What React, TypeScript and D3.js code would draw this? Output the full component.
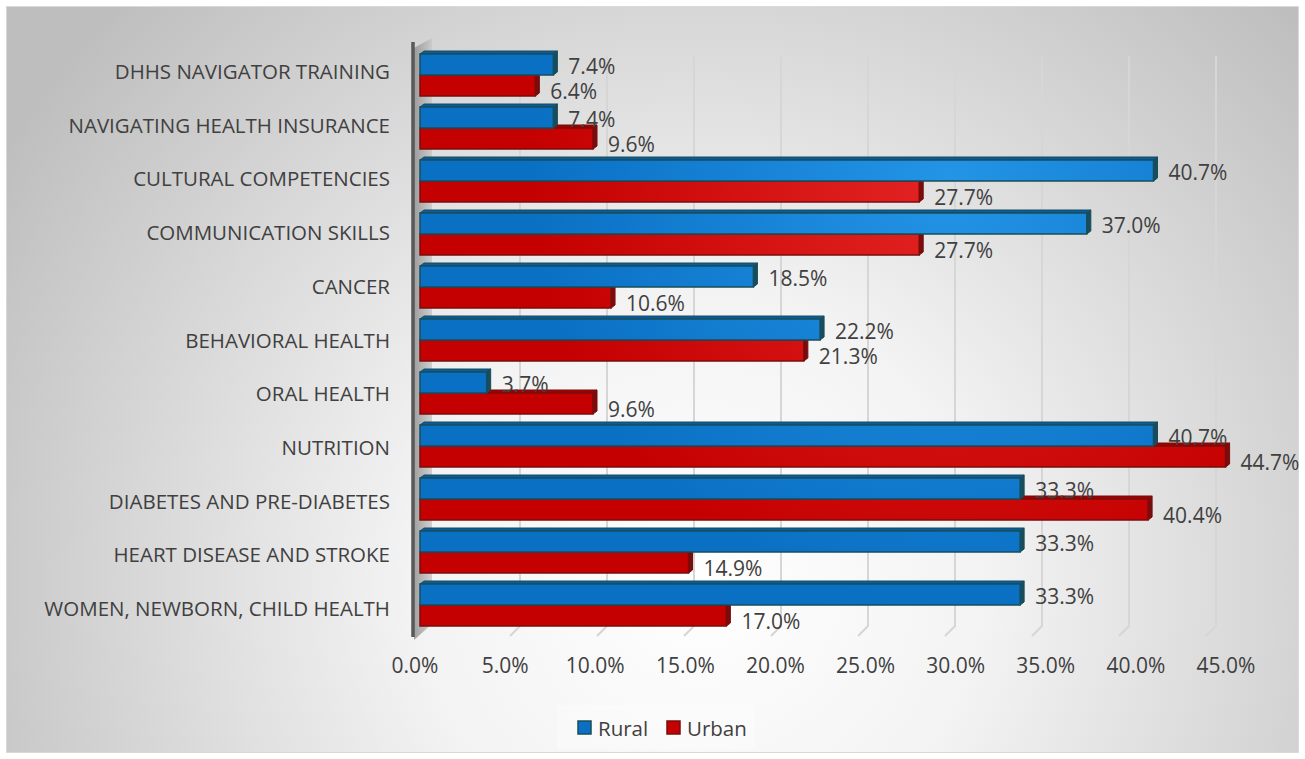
import React, { useEffect, useRef } from "react";
import * as d3 from "d3";

const categories = [
  "DHHS NAVIGATOR TRAINING",
  "NAVIGATING HEALTH INSURANCE",
  "CULTURAL COMPETENCIES",
  "COMMUNICATION SKILLS",
  "CANCER",
  "BEHAVIORAL HEALTH",
  "ORAL HEALTH",
  "NUTRITION",
  "DIABETES AND PRE-DIABETES",
  "HEART DISEASE AND STROKE",
  "WOMEN, NEWBORN, CHILD HEALTH",
];
const rural = [7.4, 7.4, 40.7, 37.0, 18.5, 22.2, 3.7, 40.7, 33.3, 33.3, 33.3];
const urban = [6.4, 9.6, 27.7, 27.7, 10.6, 21.3, 9.6, 44.7, 40.4, 14.9, 17.0];
const xTicks = [0, 5, 10, 15, 20, 25, 30, 35, 40, 45];
const seriesNames = ["Rural", "Urban"];

const FONT = "'Open Sans', 'Noto Sans', sans-serif";

export default function App() {
  const svgRef = useRef<SVGSVGElement | null>(null);

  useEffect(() => {
    const width = 1305;
    const height = 759;
    const svg = d3.select(svgRef.current).attr("width", width).attr("height", height);
    svg.selectAll("*").remove();

    // scales: front plane and back wall (3D look)
    const x = d3.scaleLinear().domain([0, 45]).range([420, 1231]);
    const xBack = d3.scaleLinear().domain([0, 45]).range([433, 1216]);
    const y = d3.scaleBand<string>().domain(categories).range([48.5, 631.5]);
    const yLabel = d3.scaleBand<string>().domain(categories).range([44, 635]);
    const barH = 21;
    const dx = 4;
    const dy = -3;

    const defs = svg.append("defs");
    const bg = defs
      .append("radialGradient")
      .attr("id", "bg")
      .attr("gradientUnits", "userSpaceOnUse")
      .attr("cx", 700)
      .attr("cy", 580)
      .attr("r", 820);
    bg.append("stop").attr("offset", "0").attr("stop-color", "#ffffff");
    bg.append("stop").attr("offset", "0.35").attr("stop-color", "#f3f3f3");
    bg.append("stop").attr("offset", "1").attr("stop-color", "#bebebe");

    const mk = (id: string, light: string, dark: string) => {
      const g = defs
        .append("radialGradient")
        .attr("id", id)
        .attr("gradientUnits", "userSpaceOnUse")
        .attr("cx", 950)
        .attr("cy", 180)
        .attr("r", 420);
      g.append("stop").attr("offset", "0").attr("stop-color", light);
      g.append("stop").attr("offset", "1").attr("stop-color", dark);
    };
    mk("blueG", "#2394e6", "#0a70c4");
    mk("redG", "#e42424", "#c40000");

    const wallG = defs.append("linearGradient").attr("id", "wall").attr("x1", "0").attr("x2", "1");
    wallG.append("stop").attr("offset", "0").attr("stop-color", "#8c8c8c");
    wallG.append("stop").attr("offset", "1").attr("stop-color", "#c8c8c8");

    // background
    svg
      .append("rect")
      .attr("x", 6.5)
      .attr("y", 6.5)
      .attr("width", 1292)
      .attr("height", 746)
      .attr("fill", "url(#bg)")
      .attr("stroke", "#d9d9d9")
      .attr("stroke-width", 1);

    // gridlines on back wall + floor diagonals
    const grid = svg.append("g");
    xTicks.slice(1).forEach((t) => {
      grid
        .append("path")
        .attr("d", `M${xBack(t)},56 L${xBack(t)},626 L${xBack(t) - 10},636`)
        .attr("fill", "none")
        .attr("stroke", "#d6d6d6")
        .attr("stroke-width", 2);
    });

    // side wall
    svg
      .append("path")
      .attr("d", "M414,48 L432,38 L432,624 L414,640 Z")
      .attr("fill", "url(#wall)")
      .attr("opacity", 0.8);
    svg
      .append("line")
      .attr("x1", 413)
      .attr("x2", 413)
      .attr("y1", 42)
      .attr("y2", 637)
      .attr("stroke", "#595959")
      .attr("stroke-width", 3.5);

    // 3D bar helper
    const drawBar = (
      g: d3.Selection<SVGGElement, unknown, null, undefined>,
      x0: number,
      x1: number,
      y0: number,
      fill: string,
      side: string,
      edge: string
    ) => {
      g.append("path")
        .attr("d", `M${x0},${y0} L${x0 + dx},${y0 + dy} L${x1 + dx},${y0 + dy} L${x1},${y0} Z`)
        .attr("fill", side)
        .attr("stroke", edge)
        .attr("stroke-width", 1);
      g.append("path")
        .attr("d", `M${x1},${y0} L${x1 + dx},${y0 + dy} L${x1 + dx},${y0 + barH + dy} L${x1},${y0 + barH} Z`)
        .attr("fill", edge)
        .attr("stroke", edge)
        .attr("stroke-width", 1);
      g.append("rect")
        .attr("x", x0)
        .attr("y", y0)
        .attr("width", x1 - x0)
        .attr("height", barH)
        .attr("fill", fill)
        .attr("stroke", edge)
        .attr("stroke-width", 1.5);
    };

    const bars = svg.append("g");
    categories.forEach((c, i) => {
      const mid = (y(c) as number) + y.bandwidth() / 2;
      drawBar(bars, x(0), x(urban[i]), mid, "url(#redG)", "#a00000", "#7a0c0c");
      drawBar(bars, x(0), x(rural[i]), mid - barH, "url(#blueG)", "#0a5c9c", "#174d5c");
    });

    // data labels
    const labels = svg
      .append("g")
      .attr("font-family", FONT)
      .attr("font-size", 21)
      .attr("fill", "#404040");
    categories.forEach((c, i) => {
      const mid = (y(c) as number) + y.bandwidth() / 2;
      labels
        .append("text")
        .attr("x", x(rural[i]) + 15)
        .attr("y", mid - barH / 2 + 1)
        .attr("dominant-baseline", "central")
        .text(`${rural[i].toFixed(1)}%`);
      labels
        .append("text")
        .attr("x", x(urban[i]) + 15)
        .attr("y", mid + barH / 2 + 5)
        .attr("dominant-baseline", "central")
        .text(`${urban[i].toFixed(1)}%`);
    });

    // category axis labels
    const cat = svg
      .append("g")
      .attr("font-family", FONT)
      .attr("font-size", 20.5)
      .attr("fill", "#404040")
      .attr("text-anchor", "end");
    categories.forEach((c) => {
      cat
        .append("text")
        .attr("x", 390)
        .attr("y", (yLabel(c) as number) + yLabel.bandwidth() / 2)
        .attr("dominant-baseline", "central")
        .text(c);
    });

    // x tick labels
    const tk = svg
      .append("g")
      .attr("font-family", FONT)
      .attr("font-size", 21)
      .attr("fill", "#404040")
      .attr("text-anchor", "middle");
    xTicks.forEach((t) => {
      tk.append("text")
        .attr("x", x(t) - 5)
        .attr("y", 665)
        .attr("dominant-baseline", "central")
        .text(`${t.toFixed(1)}%`);
    });

    // legend
    const lg = svg.append("g").attr("font-family", FONT).attr("font-size", 20.5).attr("fill", "#404040");
    lg.append("rect")
      .attr("x", 557)
      .attr("y", 705)
      .attr("width", 198)
      .attr("height", 44)
      .attr("fill", "#ffffff")
      .attr("opacity", 0.3);
    const legendX = [578, 667];
    const legendFill = ["#0a70c4", "#c40000"];
    const legendEdge = ["#174d5c", "#7a0c0c"];
    seriesNames.forEach((s, i) => {
      lg.append("rect")
        .attr("x", legendX[i])
        .attr("y", 721)
        .attr("width", 13)
        .attr("height", 13)
        .attr("fill", legendFill[i])
        .attr("stroke", legendEdge[i])
        .attr("stroke-width", 1.5);
      lg.append("text")
        .attr("x", legendX[i] + 20)
        .attr("y", 728)
        .attr("dominant-baseline", "central")
        .text(s);
    });
  }, []);

  return <svg ref={svgRef} style={{ position: "absolute", left: 0, top: 0 }}></svg>;
}
